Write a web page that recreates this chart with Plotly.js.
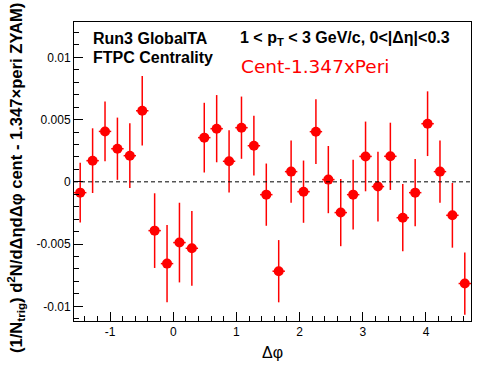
<!DOCTYPE html>
<html>
<head>
<meta charset="utf-8">
<script src="https://cdn.plot.ly/plotly-3.0.1.min.js"></script>
<style>html,body{margin:0;padding:0;background:#fff;}#chart{width:496px;height:374px;}</style>
</head>
<body>
<div id="chart"></div>
<script>
// Δφ bin centres (32 bins over [-π/2, 3π/2])
const dphi = [-1.4726, -1.2763, -1.0799, -0.8836, -0.6872, -0.4909, -0.2945, -0.0982,
              0.0982, 0.2945, 0.4909, 0.6872, 0.8836, 1.0799, 1.2763, 1.4726,
              1.6690, 1.8653, 2.0617, 2.2580, 2.4544, 2.6507, 2.8471, 3.0434,
              3.2398, 3.4361, 3.6325, 3.8288, 4.0252, 4.2215, 4.4179, 4.6142];
// cent - 1.347 x peri (ZYAM subtracted)
const yield_ = [-0.00087, 0.00170, 0.00405, 0.00266, 0.00210, 0.00571, -0.00392, -0.00657,
                -0.00488, -0.00534, 0.00355, 0.00427, 0.00165, 0.00435, 0.00290, -0.00103,
                -0.00718, 0.00082, -0.00079, 0.00403, 0.00018, -0.00247, -0.00103, 0.00204,
                -0.00038, 0.00205, -0.00288, -0.00087, 0.00467, 0.00082, -0.00269, -0.00817];
const yerr = [0.0024, 0.0026, 0.0024, 0.0025, 0.0026, 0.0028, 0.0030, 0.0031,
              0.0032, 0.0030, 0.0028, 0.0027, 0.0025, 0.0025, 0.0024, 0.0025,
              0.0025, 0.0025, 0.0025, 0.0026, 0.0027, 0.0027, 0.0028, 0.0028,
              0.0028, 0.0027, 0.0027, 0.0027, 0.0026, 0.0025, 0.0026, 0.0025];
const binHalfWidth = 0.0982;
const xTickVals = [-1, 0, 1, 2, 3, 4];
const xTickText = ['-1', '0', '1', '2', '3', '4'];
const yTickVals = [-0.01, -0.005, 0, 0.005, 0.01];
const yTickText = ['-0.01', '-0.005', '0', '0.005', '0.01'];

const W = 496, H = 374;
const M = {l: 74, r: 25, t: 22, b: 53};
const PW = W - M.l - M.r, PH = H - M.t - M.b;
const px = x => (x - M.l) / PW;
const py = y => (H - M.b - y) / PH;

const FONT = 'Liberation Sans, Arial, Helvetica, sans-serif';

const trace = {
  type: 'scatter', mode: 'markers',
  x: dphi, y: yield_,
  marker: {color: '#ff0000', size: 10, symbol: 'circle'},
  error_y: {type: 'data', array: yerr, visible: true, color: '#ff0000', thickness: 1.5, width: 0},
  error_x: {type: 'constant', value: binHalfWidth, visible: true, color: '#ff0000', thickness: 1.5, width: 0},
  hoverinfo: 'x+y'
};

const axisCommon = {
  showgrid: false, zeroline: false, showline: true, linecolor: '#000', linewidth: 1,
  mirror: true, ticks: 'inside', ticklen: 9, tickwidth: 1, tickcolor: '#000',
  tickfont: {family: FONT, size: 12, color: '#000'}
};

const layout = {
  width: W, height: H,
  margin: {l: M.l, r: M.r, t: M.t, b: M.b, pad: 0},
  paper_bgcolor: '#fff', plot_bgcolor: '#fff',
  showlegend: false,
  xaxis: Object.assign({}, axisCommon, {
    range: [-Math.PI / 2, 3 * Math.PI / 2],
    tickmode: 'array', tickvals: xTickVals, ticktext: xTickText,
    minor: {dtick: 0.2, tick0: 0, ticks: 'inside', ticklen: 5, tickcolor: '#000', showgrid: false}
  }),
  yaxis: Object.assign({}, axisCommon, {
    range: [-0.01118, 0.01284],
    tickmode: 'array', tickvals: yTickVals, ticktext: yTickText,
    minor: {dtick: 0.001, tick0: 0, ticks: 'inside', ticklen: 5, tickcolor: '#000', showgrid: false}
  }),
  shapes: [{
    type: 'line', xref: 'paper', x0: 0, x1: 1, yref: 'y', y0: 0, y1: 0,
    line: {color: '#000', width: 1, dash: '4px,3px'}
  }],
  annotations: [
    {xref: 'paper', yref: 'paper', x: px(91.5), y: py(38.8), xanchor: 'left', yanchor: 'middle',
     text: '<b>Run3 GlobalTA</b>', showarrow: false, borderpad: 0,
     font: {family: FONT, size: 16, color: '#000'}},
    {xref: 'paper', yref: 'paper', x: px(91.5), y: py(57.5), xanchor: 'left', yanchor: 'middle',
     text: '<b>FTPC Centrality</b>', showarrow: false, borderpad: 0,
     font: {family: FONT, size: 16, color: '#000'}},
    {xref: 'paper', yref: 'paper', x: px(238.5), y: py(38.5), xanchor: 'left', yanchor: 'middle',
     text: '<b>1 &lt; p<sub>T</sub> &lt; 3 GeV/c, 0&lt;|Δη|&lt;0.3</b>', showarrow: false, borderpad: 0,
     font: {family: FONT, size: 16, color: '#000'}},
    {xref: 'paper', yref: 'paper', x: px(240), y: py(66.7), xanchor: 'left', yanchor: 'middle',
     text: 'Cent-1.347xPeri', showarrow: false, borderpad: 0,
     font: {family: 'DejaVu Sans, sans-serif', size: 18.5, color: '#ff0000'}},
    {xref: 'paper', yref: 'paper', x: px(272), y: py(352), xanchor: 'center', yanchor: 'middle',
     text: 'Δφ', showarrow: false, borderpad: 0,
     font: {family: FONT, size: 16, color: '#000'}},
    {xref: 'paper', yref: 'paper', x: px(15), y: py(354), xanchor: 'center', yanchor: 'bottom',
     textangle: -90,
     text: '<b>(1/N<sub>trig</sub>) d<sup>2</sup>N/dΔηdΔφ cent - 1.347×peri ZYAM)</b>', showarrow: false, borderpad: 0,
     font: {family: FONT, size: 16.6, color: '#000'}}
  ]
};

Plotly.newPlot('chart', [trace], layout, {staticPlot: true, displayModeBar: false});
</script>
</body>
</html>
